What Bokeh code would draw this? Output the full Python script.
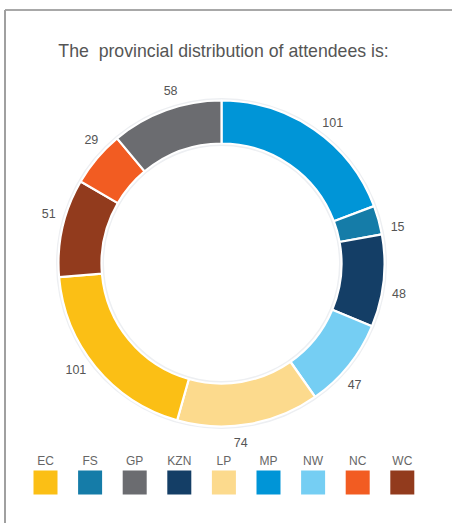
import math
from bokeh.plotting import figure
from bokeh.models import Range1d, ColumnDataSource
from bokeh.core.properties import value
from bokeh.embed import file_html
from bokeh.resources import INLINE

# ---- data ----
title_text = "The\u00a0 provincial distribution of attendees is:"
ring_order = ["MP", "FS", "KZN", "NW", "LP", "EC", "WC", "NC", "GP"]
ring_values = [101, 15, 48, 47, 74, 101, 51, 29, 58]
legend_order = ["EC", "FS", "GP", "KZN", "LP", "MP", "NW", "NC", "WC"]
colors = {
    "EC": "#FBBF15", "FS": "#157CA8", "GP": "#6B6C70", "KZN": "#143E66",
    "LP": "#FCDA8D", "MP": "#0095D7", "NW": "#75CEF3", "NC": "#F25C22",
    "WC": "#923B1D",
}

W, H = 452, 523
p = figure(width=W, height=H, x_range=Range1d(0, W), y_range=Range1d(0, H),
           output_backend="svg", toolbar_location=None, min_border=0,
           outline_line_color=None, background_fill_color="white",
           border_fill_color="white")
p.axis.visible = False
p.grid.visible = False


def py(y):
    return H - y


# frame lines (top and left)
p.line([4.5, W], [py(9.5), py(9.5)], line_color="#A8A8A8", line_width=2)
p.line([4.5, 4.5], [0, py(9.5)], line_color="#A0A0A0", line_width=2)

# title
p.text(x=[223], y=[py(50)], text=[title_text], text_align="center",
       text_baseline="middle", text_font=value("Liberation Sans"),
       text_font_size="17.7px", text_color="#555555")

# donut
cx, cy = 221, py(263)
r_in, r_out = 120, 163
total = sum(ring_values)
starts, ends, mids = [], [], []
acc = 0
for v in ring_values:
    a0 = acc / total * 2 * math.pi
    acc += v
    a1 = acc / total * 2 * math.pi
    starts.append(math.pi / 2 - a0)
    ends.append(math.pi / 2 - a1)
    mids.append((a0 + a1) / 2)

p.annulus(x=[cx], y=[cy], inner_radius=r_in - 2.5, outer_radius=r_out + 2.5,
          fill_color="#EDEFF2", line_color=None)
src = ColumnDataSource(dict(
    x=[cx] * len(ring_values), y=[cy] * len(ring_values),
    start=starts, end=ends, color=[colors[k] for k in ring_order]))
p.annular_wedge(x="x", y="y", inner_radius=r_in, outer_radius=r_out,
                start_angle="start", end_angle="end", direction="clock",
                fill_color="color", line_color="white", line_width=2.2,
                source=src)

# value labels outside
lr = 180
shift = math.radians(3.5)
lx = [cx + lr * math.sin(m + shift) for m in mids]
ly = [cy + lr * math.cos(m + shift) for m in mids]
p.text(x=lx, y=ly, text=[str(v) for v in ring_values], text_align="center",
       text_baseline="middle", text_font=value("Liberation Sans"),
       text_font_size="12.5px", text_color="#555555")

# legend
step = 44.6
gx = [45 + i * step for i in range(len(legend_order))]
p.rect(x=gx, y=[py(482)] * len(gx), width=24, height=24,
       fill_color=[colors[k] for k in legend_order], line_color=None)
p.text(x=gx, y=[py(460)] * len(gx), text=legend_order, text_align="center",
       text_baseline="middle", text_font=value("Liberation Sans"),
       text_font_size="12px", text_color="#666666")

open("out.html", "w").write(file_html(p, INLINE))
